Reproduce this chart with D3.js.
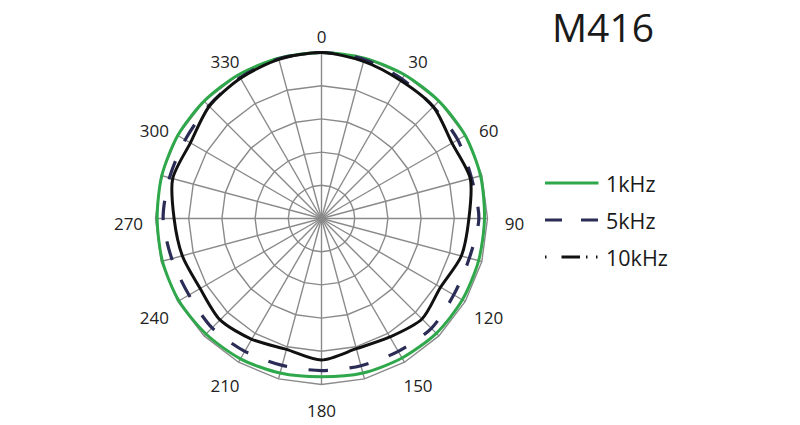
<!DOCTYPE html>
<html><head><meta charset="utf-8">
<script src="https://cdn.jsdelivr.net/npm/d3@7"></script>
<style>
html,body{margin:0;padding:0;background:#fff;}
svg{display:block;font-family:"Open Sans",sans-serif;}
</style></head>
<body><svg id="chart" width="800" height="425"></svg>
<script>
// ---- data ----
const title = "M416";
const angles = d3.range(0, 360, 15);                 // degrees
const angleLabels = ["0","30","60","90","120","150","180","210","240","270","300","330"];
const seriesNames = ["1kHz","5kHz","10kHz"];
// relative level in dB at each angle (0..345 step 15)
const v1k  = [0,0,0,0,0,-0.2,-0.45,-0.5,-0.5,-0.55,-0.75,-0.9,-1.15,-0.9,-0.6,-0.4,-0.2,-0.2,-0.25,-0.1,0,0,0,0];
const v5k  = [0,-0.2,-0.75,-1.2,-1.3,-1.6,-1.3,-1.95,-2.0,-1.6,-1.9,-2.05,-2.1,-2.1,-1.9,-1.7,-1.95,-1.65,-1.15,-1.3,-1.3,-1.0,-0.5,-0.1];
const v10k = [0,-0.5,-1.05,-1.2,-2.3,-1.8,-2.8,-3.2,-4.3,-3.6,-4.4,-4.7,-3.7,-4.6,-4.0,-3.4,-3.9,-3.3,-2.8,-1.8,-2.2,-1.1,-0.6,-0.2];
const rTicks = [-20,-15,-10,-5,0];
const rDomain = [-25, 0];

// ---- layout ----
const svg = d3.select("#chart");
const cx = 321.5, cy = 218.5, R = 166;
const r = d3.scaleLinear().domain(rDomain).range([0, R]);
const rad = d => d * Math.PI / 180;
const g = svg.append("g").attr("transform", `translate(${cx},${cy})`);

const gridColor = "#8a8a8a";
// rings (24-gon webs)
const ringLine = d3.lineRadial().angle(a => rad(a)).curve(d3.curveLinearClosed);
rTicks.forEach(t => {
  g.append("path")
    .attr("d", ringLine.radius(() => r(t))(angles))
    .attr("fill", "none").attr("stroke", gridColor).attr("stroke-width", 1.4);
});
// spokes
g.selectAll("line.spoke").data(angles).join("line")
  .attr("class","spoke")
  .attr("x1",0).attr("y1",0)
  .attr("x2", a => r(0) * Math.sin(rad(a)))
  .attr("y2", a => -r(0) * Math.cos(rad(a)))
  .attr("stroke", gridColor).attr("stroke-width", 1.4);

// angle labels
const labRx = 193, labRy = 187;
g.selectAll("text.alab").data(angleLabels).join("text")
  .attr("class","alab")
  .attr("x", d => labRx * Math.sin(rad(+d)))
  .attr("y", d => -labRy * Math.cos(rad(+d)) + 5)
  .attr("text-anchor","middle").attr("dominant-baseline","central")
  .attr("font-size", 17).attr("fill", "#222")
  .text(d => d);

// series
const line = d3.lineRadial()
  .angle((d, i) => rad(angles[i]))
  .radius(d => r(d))
  .curve(d3.curveCardinalClosed.tension(0.2));

const colors = ["#2ea84a", "#2a2c55", "#111111"];
g.append("path").attr("d", line(v1k)).attr("fill","none")
  .attr("stroke", colors[0]).attr("stroke-width", 3);
const p5 = g.append("path").attr("d", line(v5k)).attr("fill","none")
  .attr("stroke", colors[1]).attr("stroke-width", 3.2);
const L = p5.node().getTotalLength();
const period = L / 24, dash = period * 0.48;
p5.attr("stroke-dasharray", `${dash},${period - dash}`).attr("stroke-dashoffset", dash / 2);
g.append("path").attr("d", line(v10k)).attr("fill","none")
  .attr("stroke", colors[2]).attr("stroke-width", 3);

// title
svg.append("text").attr("x", 552).attr("y", 42)
  .attr("font-size", 39).attr("fill", "#1a1a1a").text(title);

// legend
const legY = [183, 220, 257];
const dashes = [null, "17,19", "1.5,15,18.5,6,1.5,8.5,1.5"];
const lg = svg.append("g");
seriesNames.forEach((s, i) => {
  lg.append("line").attr("x1", 545).attr("x2", 598.5)
    .attr("y1", legY[i]).attr("y2", legY[i])
    .attr("stroke", colors[i]).attr("stroke-width", 3)
    .attr("stroke-dasharray", dashes[i]);
  lg.append("text").attr("x", 606).attr("y", legY[i])
    .attr("dominant-baseline", "central")
    .attr("font-size", 21.5).attr("fill", "#1a1a1a").text(s);
});
</script></body></html>
